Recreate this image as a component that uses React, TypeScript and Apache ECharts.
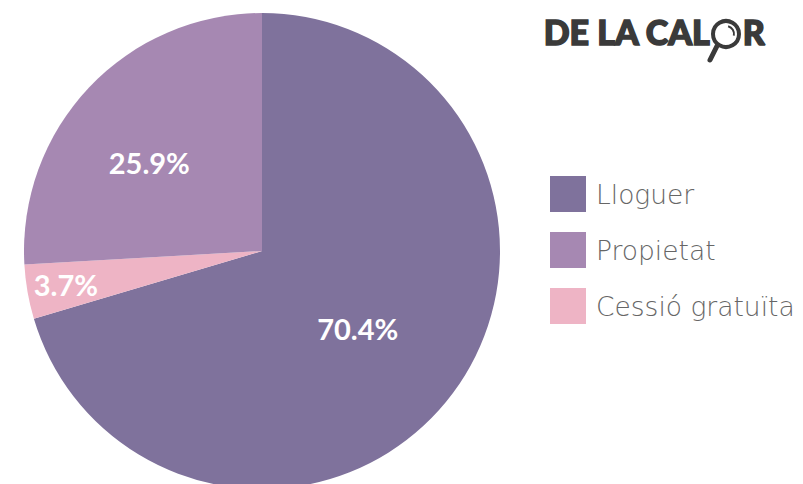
import React, { useEffect, useRef } from "react";
import * as echarts from "echarts";

const categories = ["Lloguer", "Cessió gratuïta", "Propietat"];
const values = [70.4, 3.7, 25.9];
const labelTexts = ["70.4%", "3.7%", "25.9%"];
const legendOrder = ["Lloguer", "Propietat", "Cessió gratuïta"];
const colors = ["#7f729c", "#eeb4c5", "#a688b2"];
const labelOffsets = [
  [-2, 5],
  [-76, 13],
  [-24, -5],
];

export default function App() {
  const ref = useRef<HTMLDivElement>(null);
  useEffect(() => {
    document.body.style.margin = "0";
    const chart = echarts.init(ref.current!, null, { renderer: "svg" });
    chart.setOption({
      animation: false,
      legend: {
        data: legendOrder,
        orient: "vertical",
        left: 550,
        top: 176,
        icon: "rect",
        itemWidth: 36,
        itemHeight: 36,
        itemGap: 20,
        padding: 0,
        selectedMode: false,
        textStyle: {
          fontFamily: "DejaVu Sans",
          fontWeight: 200,
          fontSize: 26.5,
          color: "#666666",
          lineHeight: 36,
          padding: [0, 0, 0, 5],
        },
      },
      graphic: [
        {
          type: "text",
          left: 543,
          top: 14,
          style: {
            text: "DE LA CAL",
            font: "900 34px Lato",
            fill: "#3a3a3a",
            stroke: "#3a3a3a",
            lineWidth: 1.5,
          },
        },
        {
          type: "text",
          left: 742,
          top: 14,
          style: {
            text: "R",
            font: "900 34px Lato",
            fill: "#3a3a3a",
            stroke: "#3a3a3a",
            lineWidth: 1.5,
          },
        },
        {
          type: "circle",
          shape: { cx: 726, cy: 34, r: 13 },
          style: { fill: "none", stroke: "#3a3a3a", lineWidth: 4 },
        },
        {
          type: "arc",
          shape: { cx: 726, cy: 34, r: 8, startAngle: -1.3, endAngle: 0.2 },
          style: { fill: "none", stroke: "#3a3a3a", lineWidth: 2 },
        },
        {
          type: "line",
          shape: { x1: 717, y1: 46, x2: 710, y2: 60 },
          style: { stroke: "#3a3a3a", lineWidth: 5, lineCap: "round" },
        },
      ],
      series: [
        {
          type: "pie",
          center: [262, 251],
          radius: 238,
          startAngle: 90,
          clockwise: true,
          color: colors,
          label: {
            show: true,
            position: "inside",
            color: "#ffffff",
            fontFamily: "Lato",
            fontWeight: "bold",
            fontSize: 29,
            formatter: (p: any) => labelTexts[p.dataIndex],
          },
          labelLine: { show: false },
          labelLayout: (p: any) => ({
            dx: labelOffsets[p.dataIndex][0],
            dy: labelOffsets[p.dataIndex][1],
          }),
          emphasis: { disabled: true },
          itemStyle: { borderWidth: 0 },
          data: categories.map((c, i) => ({ name: c, value: values[i] })),
        },
      ],
    });
    return () => chart.dispose();
  }, []);
  return <div ref={ref} style={{ width: 803, height: 484 }} />;
}
